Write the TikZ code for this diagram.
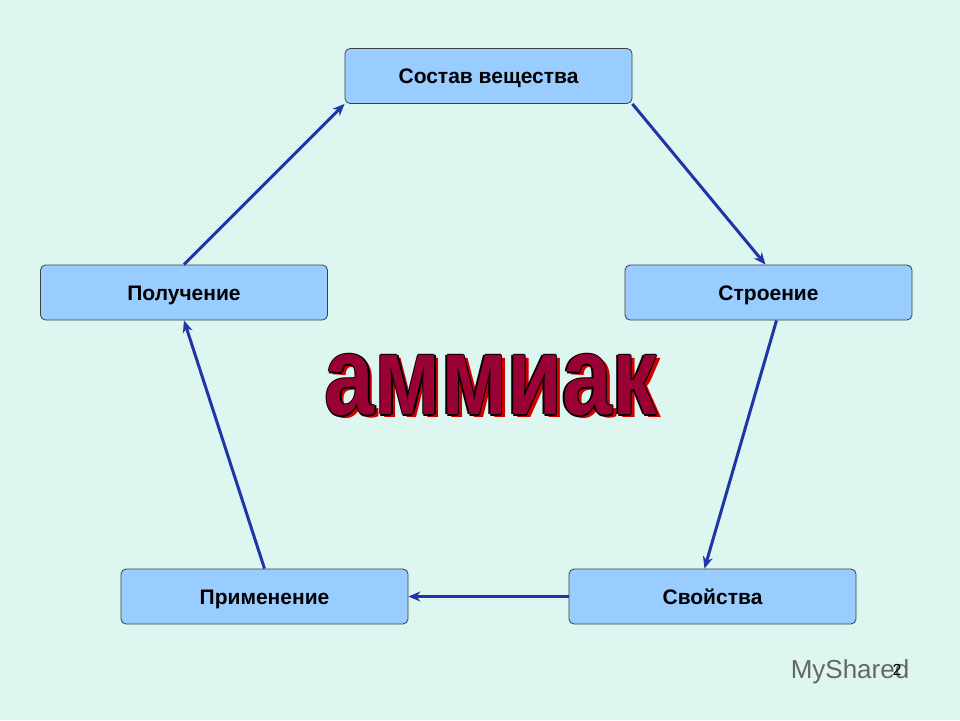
\documentclass[tikz,border=0pt]{standalone}
\usepackage{fontspec}
\setmainfont{Liberation Sans}
\usetikzlibrary{arrows.meta}
\definecolor{bg}{HTML}{DDF6F0}
\definecolor{boxc}{HTML}{99CCFF}
\definecolor{arr}{HTML}{1F35A8}
\definecolor{wine}{HTML}{990033}
\tikzset{
 box/.style={draw=black!75,fill=boxc,rounded corners=5pt,minimum width=287pt,minimum height=55pt,font=\fontsize{21}{24}\selectfont\bfseries,line width=0.8pt,text depth=0pt,text height=15pt},
 link/.style={draw=arr,line width=3pt,-{Stealth[length=12pt,width=10pt]}}
}
\begin{document}
\begin{tikzpicture}[x=1pt,y=-1pt]
\fill[bg] (0,0) rectangle (960,720);
\useasboundingbox (0,0) rectangle (960,720);
\node[box] (a) at (488.5,76) {Состав вещества};
\node[box] (b) at (768.5,292.5) {Строение};
\node[box] (c) at (712.5,596.5) {Свойства};
\node[box] (d) at (264.5,596.5) {Применение};
\node[box] (e) at (184,292.5) {Получение};
\draw[link] (e.north) -- (a.south west);
\draw[link] (a.south east) -- ([xshift=-3pt]b.north);
\draw[link] ([xshift=8pt]b.south) -- ([xshift=-8pt]c.north);
\draw[link] (c.west) -- (d.east);
\draw[link] (d.north) -- (e.south);
\foreach \dx/\dy/\col in {4/3/red!80!black, -1.5/0/black, 1.5/0/black, 0/-1.5/black, 0/1.5/black, 0/0/wine}
  \node[text=\col,xscale=0.8,font=\fontsize{112}{114}\selectfont\bfseries,inner sep=0pt] at (491+\dx,385+\dy) {аммиак};
\node[text=gray!80!black,font=\fontsize{26}{28}\selectfont] (w) at (850,672) {MyShared};
\node[font=\fontsize{16}{18}\selectfont] (n) at (897,670) {2};
\end{tikzpicture}
\end{document}
